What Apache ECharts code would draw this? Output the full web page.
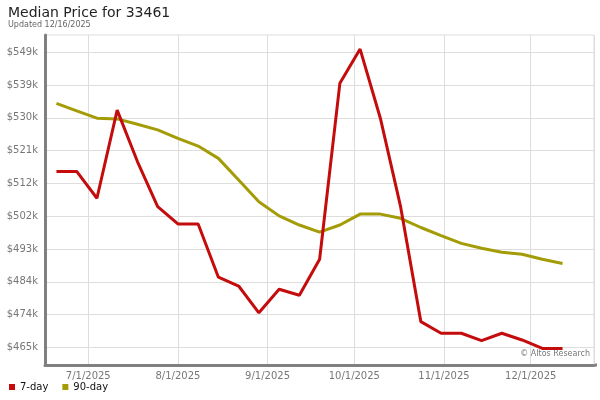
<!DOCTYPE html>
<html>
<head>
<meta charset="utf-8">
<script src="https://cdn.jsdelivr.net/npm/echarts@6/dist/echarts.min.js"></script>
<style>html,body{margin:0;padding:0;background:#fff}#c{width:600px;height:400px}</style>
</head>
<body>
<div id="c"></div>
<script>
const dates = ['2025-06-20','2025-06-27','2025-07-04','2025-07-11','2025-07-18','2025-07-25','2025-08-01','2025-08-08','2025-08-15','2025-08-22','2025-08-29','2025-09-05','2025-09-12','2025-09-19','2025-09-26','2025-10-03','2025-10-10','2025-10-17','2025-10-24','2025-10-31','2025-11-07','2025-11-14','2025-11-21','2025-11-28','2025-12-05','2025-12-12'];
const day7 = [514900,514900,507300,532300,517700,504900,500000,500000,484900,482400,474800,481500,479800,490000,539900,549600,530000,504900,472300,469000,469000,466900,469000,467100,464700,464700];
const day90 = [534200,532100,530000,529800,528300,526700,524300,522100,518600,512500,506300,502300,499700,497700,499700,502800,502800,501600,499000,496700,494500,493100,492000,491400,490000,488800];
const yTicks = [465000,474300,483600,492900,502200,511500,520800,530100,539400,548700];
const seriesNames = ['7-day','90-day'];
const titleText = 'Median Price for 33461';
const subText = 'Updated 12/16/2025';
const creditText = '\u00a9 Altos Research';

function pts(vals){ return dates.map((d,i)=>[d.replace(/-/g,'/'), vals[i]]); }
const font = 'DejaVu Sans';
const chart = echarts.init(document.getElementById('c'), null, {renderer:'canvas'});
chart.setOption({
  animation:false,
  backgroundColor:'#fff',
  title:{text:titleText, subtext:subText, left:3, top:1, itemGap:1,
    textStyle:{fontFamily:font,fontSize:14,fontWeight:'normal',color:'#222'},
    subtextStyle:{fontFamily:font,fontSize:8,color:'#666'}},
  legend:{left:4, bottom:3, icon:'rect', itemWidth:6, itemHeight:6, itemGap:14,
    textStyle:{fontFamily:font,fontSize:10,color:'#111'}, data:seriesNames},
  grid:{left:45, right:6, top:35, bottom:35, show:true, borderColor:'#ddd', borderWidth:1},
  xAxis:{type:'time', min:new Date(2025,5,16,1).getTime(), max:new Date(2025,11,22,21).getTime(),
    splitNumber:6,
    axisLine:{lineStyle:{color:'#808080',width:3}},
    axisTick:{show:false},
    splitLine:{show:true,lineStyle:{color:'#ddd',width:1}},
    axisLabel:{fontFamily:font,fontSize:10,color:'#777',margin:6,
      formatter:function(v){const d=new Date(v);return (d.getMonth()+1)+'/'+d.getDate()+'/'+d.getFullYear();}}},
  yAxis:{type:'value', min:460000, max:553600,
    axisLine:{show:true,lineStyle:{color:'#808080',width:3}},
    axisTick:{show:false, customValues:yTicks},
    splitLine:{show:true, customValues:yTicks, lineStyle:{color:'#ddd',width:1}},
    axisLabel:{fontFamily:font,fontSize:10,color:'#777',margin:7,customValues:yTicks,
      formatter:function(v){return '$'+Math.round(v/1000)+'k';}}},
  graphic:[
    {type:'text', right:10, top:350, style:{text:creditText, font:'8px "DejaVu Sans"', fill:'#777'}},
    {type:'rect', shape:{x:594, y:363.5, width:3, height:3}, style:{fill:'#808080'}}
  ],
  series:[
    {name:seriesNames[0], type:'line', data:pts(day7), symbol:'none', color:'#c40c0c', lineStyle:{width:3,color:'#c40c0c'}, z:3},
    {name:seriesNames[1], type:'line', data:pts(day90), symbol:'none', color:'#a39c06', lineStyle:{width:3,color:'#a39c06'}, z:2}
  ]
});
</script>
</body>
</html>
